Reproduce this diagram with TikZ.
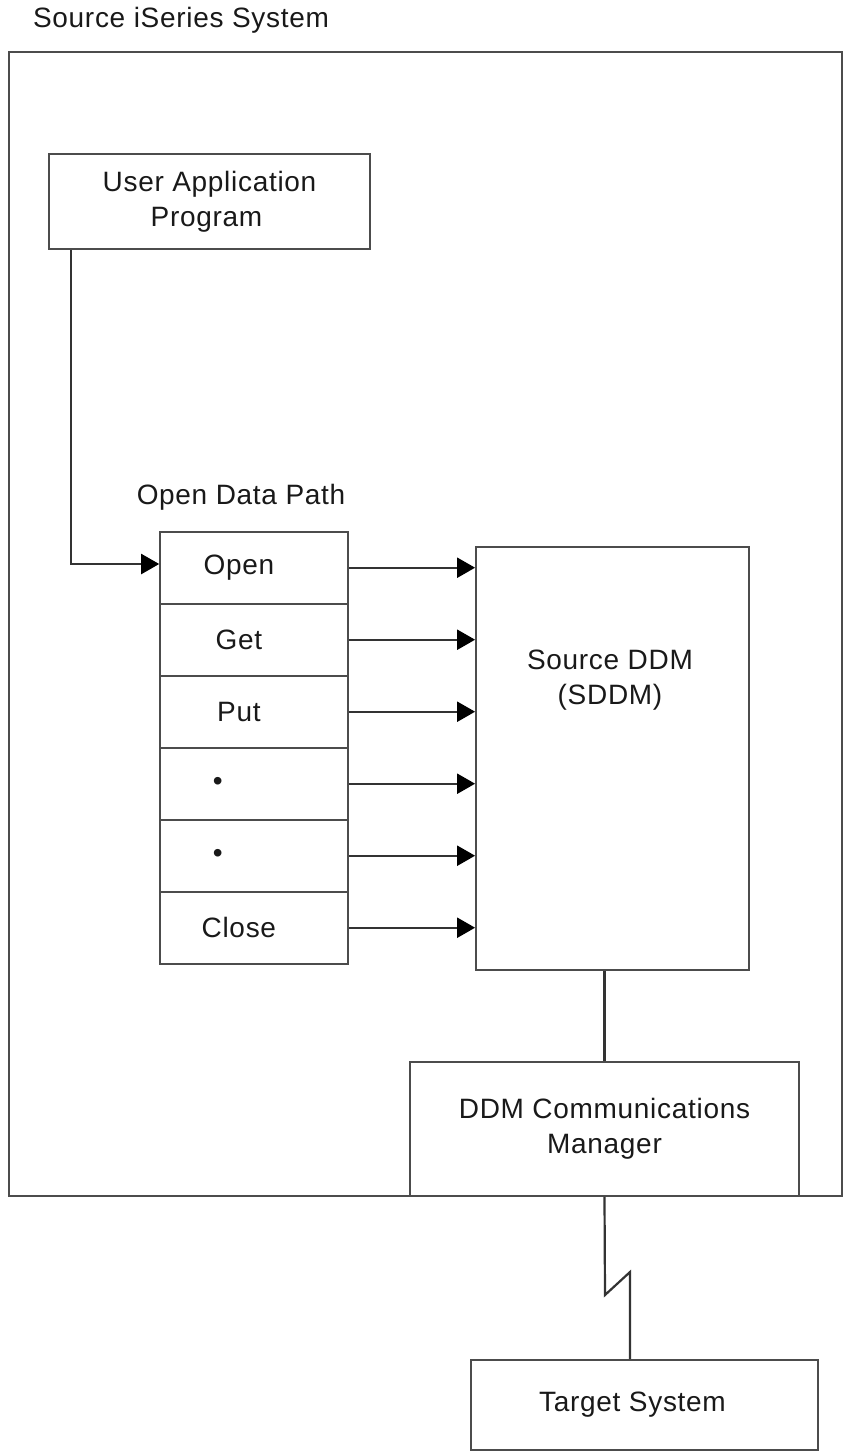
\documentclass[tikz,border=0pt]{standalone}
\usepackage{fontspec}
\setmainfont{Liberation Sans}[LetterSpace=2.5]
\usetikzlibrary{matrix,arrows.meta}

\begin{document}
\begin{tikzpicture}[x=1pt,y=-1pt,
        box/.style={draw=black!70,line width=1.8pt},
        conn/.style={draw=black!80,line width=2.2pt},
        arr/.style={conn,-{Triangle[length=18pt,width=20pt,black]}},
        lbl/.style={font=\fontsize{28}{35}\selectfont,align=center,text=black!90}]
        \useasboundingbox (0,0) rectangle (846,1452);
        \node[lbl] (title) at (181,20) {Source iSeries System};
        \node[box,minimum width=833pt,minimum height=1144pt] (src) at (425.5,624) {};
        \node[box,lbl,minimum width=321pt,minimum height=95pt] (app) at (209.5,201.5) {User Application\\Program\hspace*{6pt}};
        \node[lbl] (odplabel) at (241,497) {Open Data Path};
        \matrix (odp) [matrix of nodes,anchor=north west,inner sep=0pt,row sep=-1.8pt,
            nodes={box,lbl,minimum width=188pt,minimum height=72pt}] at (159,530.6)
        {
            Open\hspace*{22pt} \\
            Get\hspace*{22pt} \\
            Put\hspace*{22pt} \\
            \textbullet\hspace*{64pt} \\
            \textbullet\hspace*{64pt} \\
            Close\hspace*{22pt} \\
        };
        \node[box,minimum width=273pt,minimum height=423pt] (sddm) at (612.5,758.5) {};
        \node[lbl] (sddmtext) at (610,680) {Source DDM\\(SDDM)};
        \node[box,lbl,minimum width=389pt,minimum height=134pt] (mgr) at (604.5,1129) {DDM Communications\\Manager};
        \node[box,lbl,minimum width=347pt,minimum height=90pt] (target) at (644.5,1405) {Target System\hspace*{24pt}};
        \coordinate (bend) at (71,564);
        \coordinate (zigA) at (605,1295);
        \coordinate (zigB) at (630,1272);
        \draw[arr] (bend |- app.south) -- (bend) -- (bend -| odp-1-1.west);
        \foreach \r in {1,...,6}
            \draw[arr] (odp-\r-1.east) -- (odp-\r-1.east -| sddm.west);
        \draw[conn] (mgr.north |- sddm.south) -- (mgr.north);
        \draw[conn] (mgr.south) -- (zigA) -- (zigB) -- (zigB |- target.north);
\end{tikzpicture}
\end{document}
